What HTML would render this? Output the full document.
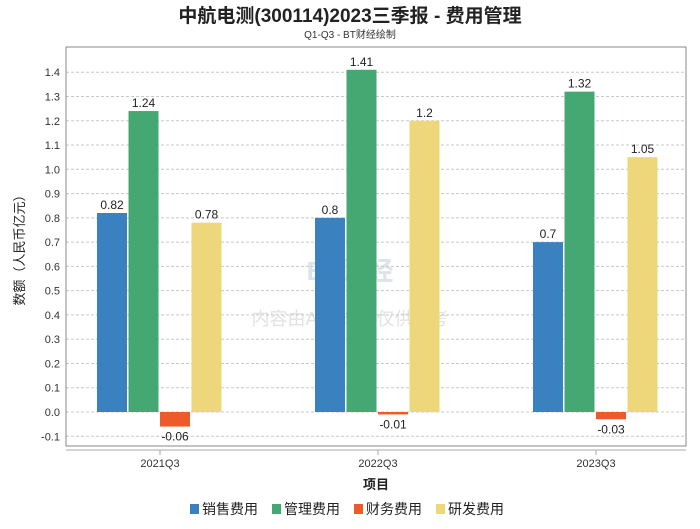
<!DOCTYPE html>
<html><head><meta charset="utf-8"><style>
body{margin:0;background:#fff;}
svg text{font-family:"Liberation Sans","Noto Sans CJK SC",sans-serif;}
</style></head><body>
<svg id="c" width="700" height="524" xmlns="http://www.w3.org/2000/svg">
<text x="350" y="22" text-anchor="middle" font-size="19" font-weight="bold" fill="#222">中航电测(300114)2023三季报 - 费用管理</text>
<text x="350" y="38" text-anchor="middle" font-size="10" fill="#333">Q1-Q3 - BT财经绘制</text>
<text x="350" y="280" text-anchor="middle" font-size="26" font-weight="bold" fill="#dde3ea">BT财经</text>
<text x="350" y="325" text-anchor="middle" font-size="18" fill="#e2e2e2">内容由AI生成，仅供参考</text>
<g id="grid"></g><g id="bars"></g><g id="labels"></g>
<rect x="66" y="47" width="620" height="399" fill="none" stroke="#888" stroke-width="1"/>
<line x1="66" y1="450" x2="686" y2="450" stroke="#aaa"/>
<text transform="translate(24,247) rotate(-90)" text-anchor="middle" font-size="13" fill="#222">数额（人民币亿元）</text>
<text x="376" y="489" text-anchor="middle" font-size="13" font-weight="bold" fill="#222">项目</text>
<g id="legend"></g>
</svg>
<script>
const categories=["2021Q3","2022Q3","2023Q3"];
const seriesNames=["销售费用","管理费用","财务费用","研发费用"];
const sales=[0.82,0.8,0.7];
const admin=[1.24,1.41,1.32];
const finance=[-0.06,-0.01,-0.03];
const rnd=[0.78,1.2,1.05];
const yTicks=["-0.1","0.0","0.1","0.2","0.3","0.4","0.5","0.6","0.7","0.8","0.9","1.0","1.1","1.2","1.3","1.4"];
const colors=["#3a81c0","#45a873","#ee5a2a","#edd77a"];
const NS="http://www.w3.org/2000/svg";
const pLeft=66,pRight=686,pTop=47,pBottom=446;
const yScale=v=>412-v*242.7;
const xc=i=>160+i*218;
function el(t,a,p){const e=document.createElementNS(NS,t);for(const k in a)e.setAttribute(k,a[k]);document.getElementById(p).appendChild(e);return e;}
yTicks.forEach(t=>{const v=parseFloat(t);const yy=yScale(v);
 const l=el("line",{x1:pLeft,x2:pRight,y1:yy,y2:yy,stroke:"#c8c8c8","stroke-dasharray":"3,2"},"grid");
 
 
 const tx=el("text",{x:pLeft-6,y:yy+4,"text-anchor":"end","font-size":"11",fill:"#333"},"grid");tx.textContent=t;
 
 
});
const series=[sales,admin,finance,rnd];
categories.forEach((c,i)=>{
 const tk=el("line",{x1:xc(i),x2:xc(i),y1:450,y2:455,stroke:"#aaa"},"grid");
 
 
 const t=el("text",{x:xc(i),y:467,"text-anchor":"middle","font-size":"11",fill:"#333"},"labels");t.textContent=c;
 
 
 series.forEach((s,j)=>{
  const v=s[i];const bx=xc(i)-63+j*31.5;const y0=yScale(0),y1=yScale(v);
  const r=el("rect",{x:bx,y:Math.min(y0,y1),width:30,height:Math.max(1,Math.abs(y1-y0)),fill:colors[j]},"bars");
  
  
  const lt=el("text",{x:bx+15,y:v>=0?y1-4:y1+14,"text-anchor":"middle","font-size":"12",fill:"#222"},"labels");lt.textContent=String(v);
  
  
 });
});
let lx=190;
seriesNames.forEach((n,j)=>{
 const r=el("rect",{x:lx,y:504,width:9,height:10,fill:colors[j]},"legend");
 
 
 const t=el("text",{x:lx+12,y:514,"font-size":"14",fill:"#222"},"legend");t.textContent=n;
 
 
 lx+=82;
});
</script>
</body></html>
